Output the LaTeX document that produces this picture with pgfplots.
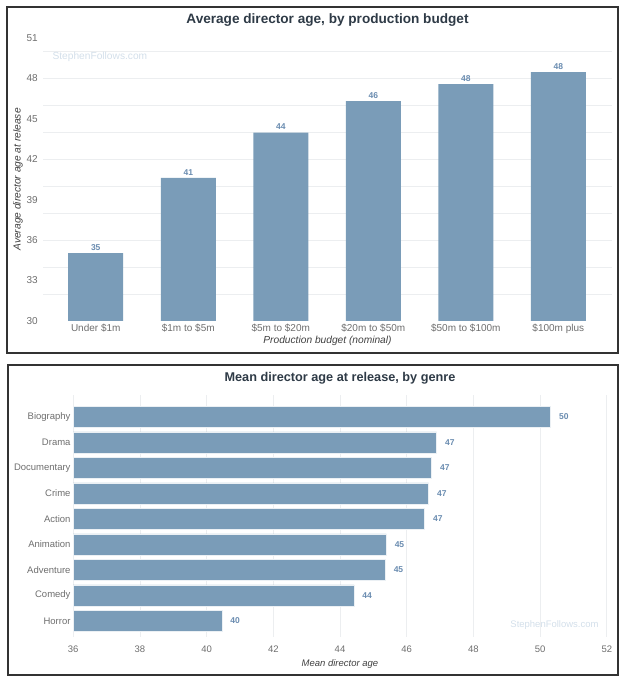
\documentclass[border=0pt]{standalone}
\usepackage{pgfplots}
\pgfplotsset{compat=1.18}
\usepackage{fontspec}
\setmainfont{Liberation Sans}
\definecolor{barc}{HTML}{7A9CB8}
\definecolor{valc}{HTML}{6A8CB0}
\definecolor{tickc}{HTML}{6E6E6E}
\definecolor{titc}{HTML}{2E3A46}
\definecolor{gridc}{HTML}{ECEEF0}
\definecolor{wmc}{HTML}{D3DFEA}
\pgfplotstableread{
x y
0 35.04
1 40.6
2 43.97
3 46.3
4 47.56
5 48.45
}\budget
\pgfplotstableread{
y x
0 50.32
1 46.9
2 46.75
3 46.66
4 46.54
5 45.39
6 45.36
7 44.42
8 40.46
}\genre
\begin{document}
\begin{tikzpicture}
\path (0pt,0pt) rectangle (628pt,680pt);
% top chart
\begin{axis}[
  at={(43pt,359pt)}, anchor=south west,
  width=569pt, height=283.3pt, scale only axis,
  ybar, bar width=55pt, bar shift=0pt,
  xmin=-0.57, xmax=5.58, ymin=30, ymax=51,
  xtick=data,
  xticklabels={Under \$1m,\$1m to \$5m,\$5m to \$20m,\$20m to \$50m,\$50m to \$100m,\$100m plus},
  ytick={30,33,...,51},
  extra y ticks={32,34,...,50}, extra y tick labels={},
  extra y tick style={grid=major},
  major grid style={draw=gridc, line width=0.8pt},
  axis line style={draw=none}, major tick length=0pt,
  /pgf/number format/assume math mode=true,
  tick label style={font=\fontsize{10}{12}\selectfont, text=tickc},
  xticklabel style={inner sep=0pt, yshift=-2.5pt},
  yticklabel style={inner sep=0pt, xshift=-5pt},
  ylabel={Average director age at release},
  xlabel={Production budget (nominal)},
  label style={font=\fontsize{10.2}{12}\selectfont\itshape, text=black!75},
  ylabel style={at={(axis description cs:-0.0439,0.5)}, anchor=center},
  xlabel style={at={(axis description cs:0.5,-0.0706)}, anchor=center},
  nodes near coords={\pgfmathprintnumber[fixed,precision=0]{\pgfplotspointmeta}},
  every node near coord/.append style={font=\fontsize{8.5}{10}\selectfont\bfseries, text=valc, inner sep=2.5pt},
  clip=true,
]
\addplot[fill=barc, draw=none] table[x=x,y=y] {\budget};
\node[font=\fontsize{10.2}{12}\selectfont, text=wmc] at (axis description cs:0.1,0.932) {StephenFollows.com};
\end{axis}
\node[font=\fontsize{13.6}{16}\selectfont\bfseries, text=titc, inner sep=0pt] at (327.5pt,659.5pt) {Average director age, by production budget};
% bottom chart
\begin{axis}[
  at={(73.2pt,43pt)}, anchor=south west,
  width=533.6pt, height=242pt, scale only axis,
  xbar, bar width=21pt, bar shift=0pt,
  y dir=reverse,
  xmin=36, xmax=52, ymin=-0.86, ymax=8.63,
  xtick={36,38,...,52},
  ytick=data,
  yticklabels={Biography,Drama,Documentary,Crime,Action,Animation,Adventure,Comedy,Horror},
  xmajorgrids=true,
  major grid style={draw=gridc, line width=0.8pt},
  axis line style={draw=none}, major tick length=0pt,
  /pgf/number format/assume math mode=true,
  tick label style={font=\fontsize{9.5}{11}\selectfont, text=tickc},
  xticklabel style={inner sep=0pt, yshift=-8.5pt},
  yticklabel style={inner sep=0pt, xshift=-2.5pt},
  xlabel={Mean director age},
  xlabel style={font=\fontsize{9.5}{11}\selectfont\itshape, text=black!75, at={(axis description cs:0.5,-0.112)}, anchor=center},
  nodes near coords={\pgfmathprintnumber[fixed,precision=0]{\pgfplotspointmeta}},
  every node near coord/.append style={font=\fontsize{8.5}{10}\selectfont\bfseries, text=valc, inner sep=0pt, xshift=8pt, anchor=west},
]
\addplot[fill=barc, draw=white!85!barc, line width=0.8pt] table[x=x,y=y] {\genre};
\node[font=\fontsize{9.5}{11}\selectfont, text=wmc] at (axis description cs:0.902,0.0496) {StephenFollows.com};
\end{axis}
\node[font=\fontsize{12.7}{15}\selectfont\bfseries, text=titc, inner sep=0pt] at (340pt,301.5pt) {Mean director age at release, by genre};
% panel borders
\draw[black!80, line width=1.2pt] (7pt,673pt) rectangle (618pt,327pt);
\draw[black!80, line width=1.2pt] (8pt,315pt) rectangle (618pt,5pt);
\end{tikzpicture}
\end{document}
